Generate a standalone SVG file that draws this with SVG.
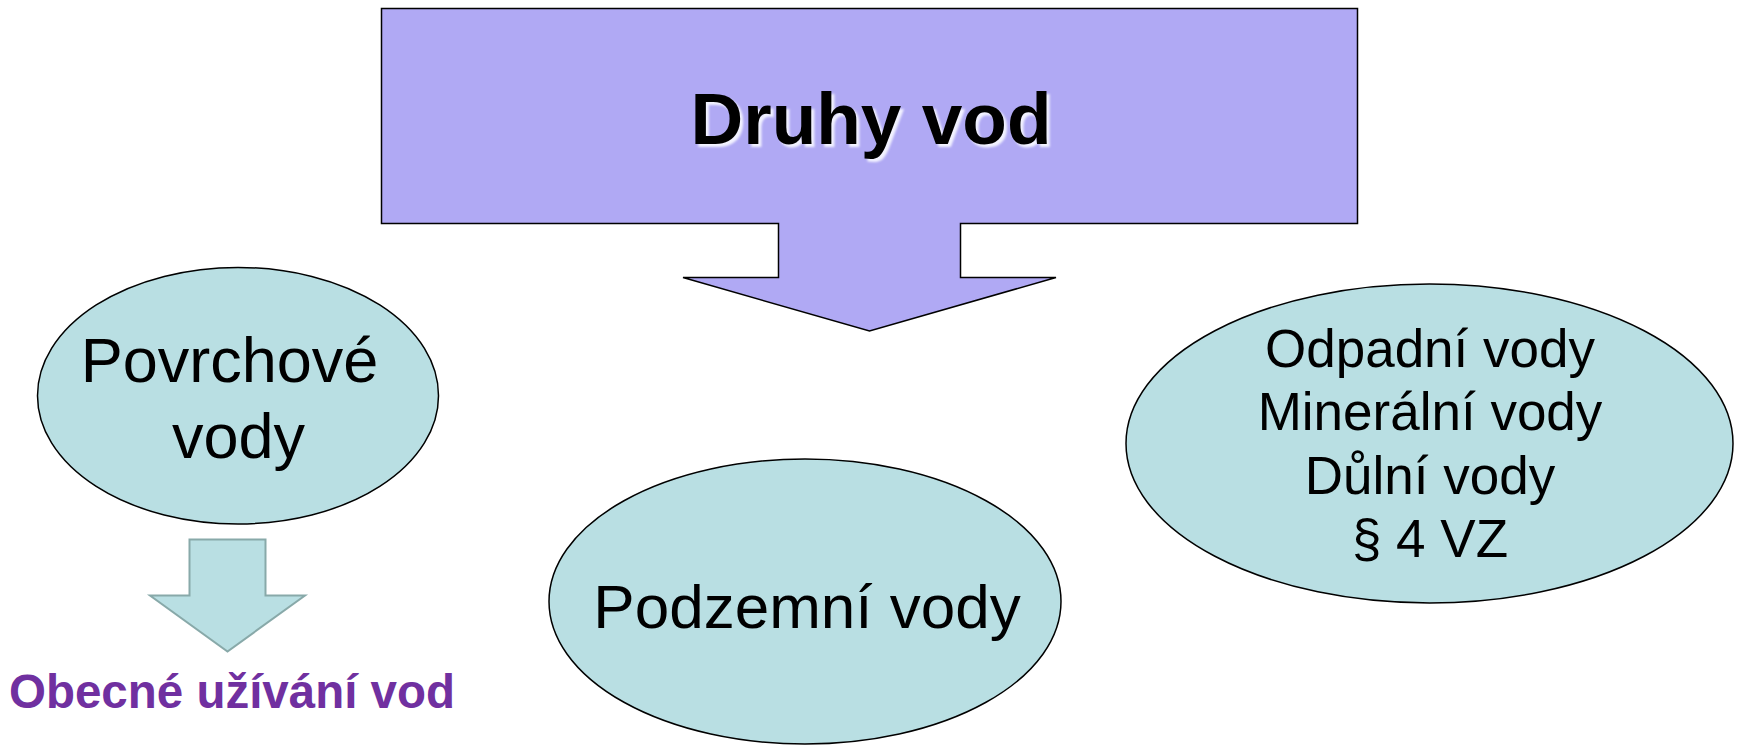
<svg xmlns="http://www.w3.org/2000/svg" width="1739" height="745" viewBox="0 0 1739 745">
<defs>
<style>
.ell{fill:#b9dfe3;stroke:#000;stroke-width:1.5}
.t{font-family:"Liberation Sans",Arial,sans-serif;fill:#000;text-anchor:middle}
.b{font-weight:bold}
</style>
<filter id="sh" x="-10%" y="-10%" width="120%" height="130%">
<feGaussianBlur stdDeviation="1.2"/>
</filter>
</defs>
<rect width="1739" height="745" fill="#fff"/>
<g id="druhy-vod">
<path d="M381.5,8.5 H1357.5 V223.5 H960.5 V277.5 H1056 L869.5,331 L683,277.5 H778.5 V223.5 H381.5 Z" fill="#b0a9f4" stroke="#000" stroke-width="1.5"/>
<text class="t b" x="874" y="147" font-size="73" style="fill:#f2f2ff" filter="url(#sh)">Druhy vod</text>
<text class="t b" x="871" y="144" font-size="73">Druhy vod</text>
</g>
<g id="connectors">
<path d="M189.5,539.5 H265.5 V595.5 H305 L227.5,651.5 L150,595.5 H189.5 Z" fill="#b9dfe3" stroke="#88a9a9" stroke-width="2"/>
</g>
<g id="povrchove">
<ellipse class="ell" cx="238" cy="395.7" rx="200.5" ry="128.3"/>
<text class="t" font-size="63"><tspan x="229.5" y="381.5">Povrchové</tspan><tspan x="238.5" y="458">vody</tspan></text>
</g>
<g id="obecne">
<text class="t b" x="232" y="708" font-size="47.5" style="fill:#7030a0">Obecné užívání vod</text>
</g>
<g id="podzemni">
<ellipse class="ell" cx="805" cy="601.5" rx="256" ry="142.5"/>
<text class="t" x="807" y="628" font-size="62">Podzemní vody</text>
</g>
<g id="ostatni">
<ellipse class="ell" cx="1429.5" cy="443.5" rx="303.5" ry="159.5"/>
<text class="t" font-size="53"><tspan x="1430" y="367">Odpadní vody</tspan><tspan x="1430" y="430">Minerální vody</tspan><tspan x="1430" y="494">Důlní vody</tspan><tspan x="1430" y="557">§ 4 VZ</tspan></text>
</g>
</svg>
